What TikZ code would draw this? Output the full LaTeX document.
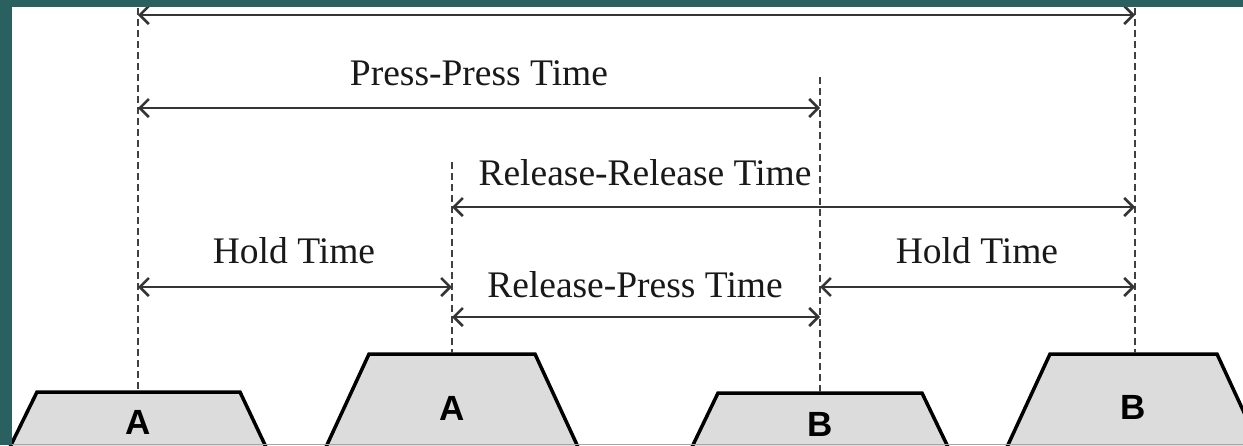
\documentclass[tikz,border=0pt]{standalone}
\usepackage{fontspec}
\setmainfont{Liberation Serif}
\newfontfamily\keyfont{Liberation Sans}
\usetikzlibrary{arrows.meta}
\definecolor{teal1}{RGB}{42,96,96}
\definecolor{keygray}{RGB}{220,220,220}
\definecolor{linegray}{RGB}{30,30,30}
\tikzset{
  guide/.style={line width=2.5pt, draw=linegray!85, dash pattern=on 7pt off 4pt},
  span/.style={line width=2.6pt, draw=linegray!90, {Straight Barb[length=9pt,width=18pt,line width=2.6pt]}-{Straight Barb[length=9pt,width=18pt,line width=2.6pt]}},
  keycap/.style={line width=3.5pt, draw=black, fill=keygray, line join=miter},
  keylabel/.style={font=\keyfont\bfseries\fontsize{35}{40}\selectfont, inner sep=0pt},
  spanlabel/.style={font=\fontsize{37.5}{44}\selectfont, inner sep=0pt, anchor=base, text=black!90}
}
\begin{document}
\begin{tikzpicture}[x=1pt,y=-1pt]
\useasboundingbox (0,0) rectangle (1243,445);
\clip (0,0) rectangle (1243,445);
\fill[white] (0,0) rectangle (1243,445);
% keys
\draw[keycap] (10,447) -- (37,392) -- (240,392) -- (266,447);
\draw[keycap] (326,447) -- (369,354) -- (535,354) -- (578,447);
\draw[keycap] (692,447) -- (718,393) -- (922,393) -- (948,447);
\draw[keycap] (1007,447) -- (1050,354) -- (1217,354) -- (1260,447);
\draw[line width=1pt, draw=gray!70] (0,444.5) -- (1243,444.5);
\node[keylabel] (kA1) at (138,422) {A};
\node[keylabel] (kA2) at (452,408) {A};
\node[keylabel] (kB1) at (820,424) {B};
\node[keylabel] (kB2) at (1133,407) {B};
% guide coordinates
\coordinate (g1t) at (138,8);   \coordinate (g1b) at (138,391);
\coordinate (g2t) at (452,162); \coordinate (g2b) at (452,353);
\coordinate (g3t) at (820,77);  \coordinate (g3b) at (820,392);
\coordinate (g4t) at (1135,8);  \coordinate (g4b) at (1135,353);
\draw[guide] (g1t) -- (g1b);
\draw[guide] (g2t) -- (g2b);
\draw[guide] (g3t) -- (g3b);
\draw[guide] (g4t) -- (g4b);
% span end points
\coordinate (t1) at (138,15);  \coordinate (t4) at (1135,15);
\coordinate (p1) at (138,108); \coordinate (p3) at (820,108);
\coordinate (r2) at (452,207); \coordinate (r4) at (1135,207);
\coordinate (h1) at (138,287); \coordinate (h2) at (452,287);
\coordinate (h3) at (820,287); \coordinate (h4) at (1135,287);
\coordinate (q2) at (452,317); \coordinate (q3) at (820,317);
\draw[span] (t1) -- (t4);
\draw[span] (p1) -- (p3);
\draw[span] (r2) -- (r4);
\draw[span] (h1) -- (h2);
\draw[span] (h3) -- (h4);
\draw[span] (q2) -- (q3);
\node[spanlabel] (lpp) at (479,85) {Press-Press Time};
\node[spanlabel] (lrr) at (645,185) {Release-Release Time};
\node[spanlabel] (lh1) at (294,263) {Hold Time};
\node[spanlabel] (lrp) at (635,297) {Release-Press Time};
\node[spanlabel] (lh2) at (977,263) {Hold Time};
% teal frame
\fill[teal1] (0,0) rectangle (1243,7);
\fill[teal1] (0,0) rectangle (12,445);
\end{tikzpicture}
\end{document}
